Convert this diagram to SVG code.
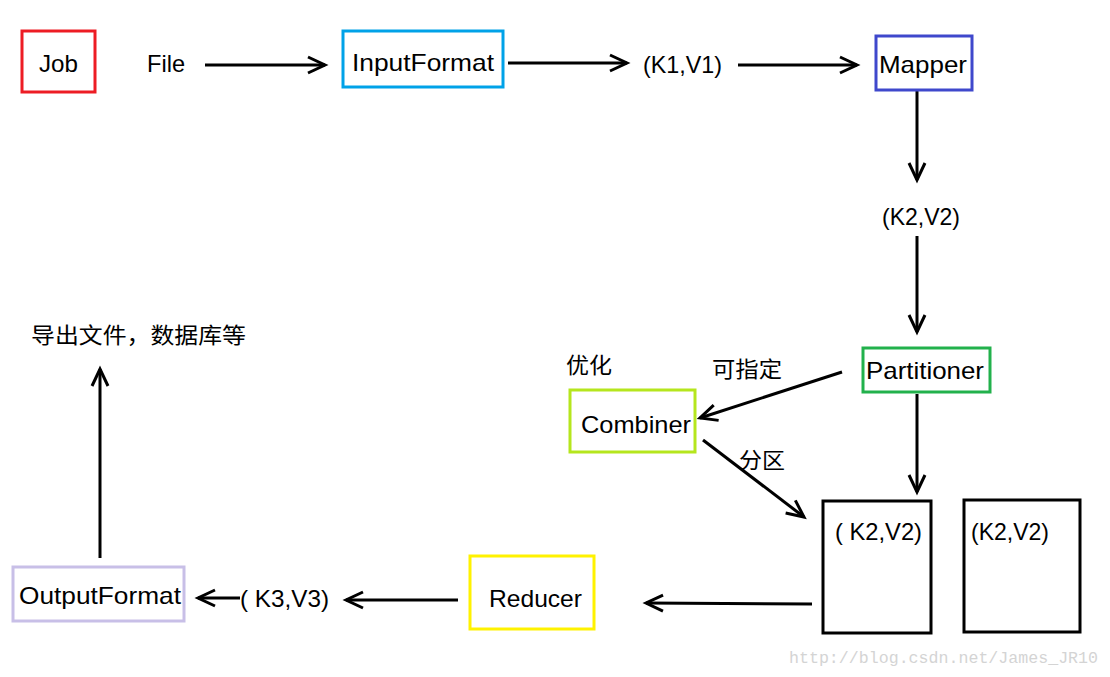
<svg xmlns="http://www.w3.org/2000/svg" width="1110" height="677" viewBox="0 0 1110 677">
<style>
.t{font-family:"Liberation Sans","Noto Sans CJK SC",sans-serif;font-size:24px;fill:#000}
.c{font-family:"Noto Sans CJK SC","Liberation Sans",sans-serif;font-size:22px;fill:#000}
.box{fill:none;stroke-width:3}
.ln{stroke:#000;stroke-width:3;fill:none;marker-end:url(#ah)}
.wm{font-family:"Liberation Mono",monospace;font-size:16.5px;fill:#d4d4d4}
</style>
<defs>
<marker id="ah" markerUnits="userSpaceOnUse" markerWidth="30" markerHeight="30" viewBox="-20 -15 30 30" refX="0" refY="0" orient="auto" overflow="visible">
<path d="M-17,-8 L0,0 L-17,8" fill="none" stroke="#000" stroke-width="3"/>
</marker>
</defs>
<rect width="1110" height="677" fill="#fff"/>
<g id="connectors">
<line class="ln" x1="205" y1="65" x2="325" y2="65"/>
<line class="ln" x1="508" y1="63" x2="627" y2="63"/>
<line class="ln" x1="738" y1="65" x2="857" y2="65"/>
<line class="ln" x1="917" y1="90" x2="917" y2="180"/>
<line class="ln" x1="917" y1="236" x2="917" y2="332"/>
<line class="ln" x1="842" y1="372" x2="700" y2="418"/>
<line class="ln" x1="703" y1="440" x2="804" y2="517"/>
<line class="ln" x1="917" y1="394" x2="917" y2="492"/>
<line class="ln" x1="812" y1="604" x2="646" y2="603"/>
<line class="ln" x1="458" y1="600" x2="346" y2="600"/>
<line class="ln" x1="240" y1="598" x2="198" y2="598"/>
<line class="ln" x1="100" y1="558" x2="100" y2="369"/>
</g>
<g id="job"><rect class="box" x="22" y="31" width="73" height="61" stroke="#ed1c24"/><text class="t" x="39" y="72" textLength="39" lengthAdjust="spacingAndGlyphs">Job</text></g>
<g id="file"><text class="t" x="147" y="72" textLength="38" lengthAdjust="spacingAndGlyphs">File</text></g>
<g id="inputformat"><rect class="box" x="343" y="31" width="160" height="56" stroke="#00a2e8"/><text class="t" x="352" y="71" textLength="142" lengthAdjust="spacingAndGlyphs">InputFormat</text></g>
<g id="k1v1"><text class="t" x="643" y="73" textLength="79" lengthAdjust="spacingAndGlyphs">(K1,V1)</text></g>
<g id="mapper"><rect class="box" x="876" y="36" width="96" height="54" stroke="#3f48cc"/><text class="t" x="879" y="73" textLength="88" lengthAdjust="spacingAndGlyphs">Mapper</text></g>
<g id="k2v2"><text class="t" x="882" y="225" textLength="78" lengthAdjust="spacingAndGlyphs">(K2,V2)</text></g>
<g id="partitioner"><rect class="box" x="863" y="348" width="127" height="44" stroke="#22b14c"/><text class="t" x="866" y="379" textLength="118" lengthAdjust="spacingAndGlyphs">Partitioner</text></g>
<g id="label-kezhiding"><text class="c" x="712" y="377" textLength="70" lengthAdjust="spacingAndGlyphs">可指定</text></g>
<g id="label-youhua"><text class="c" x="566" y="373" textLength="46" lengthAdjust="spacingAndGlyphs">优化</text></g>
<g id="combiner"><rect class="box" x="570" y="390" width="125" height="62" stroke="#b5e61d"/><text class="t" x="581" y="433" textLength="110" lengthAdjust="spacingAndGlyphs">Combiner</text></g>
<g id="label-fenqu"><text class="c" x="739" y="468" textLength="46" lengthAdjust="spacingAndGlyphs">分区</text></g>
<g id="partition1"><rect class="box" x="823" y="501" width="108" height="132" stroke="#000"/><text class="t" x="835" y="540" textLength="87" lengthAdjust="spacingAndGlyphs">( K2,V2)</text></g>
<g id="partition2"><rect class="box" x="964" y="500" width="116" height="132" stroke="#000"/><text class="t" x="971" y="540" textLength="78" lengthAdjust="spacingAndGlyphs">(K2,V2)</text></g>
<g id="reducer"><rect class="box" x="470" y="556" width="124" height="73" stroke="#fff200"/><text class="t" x="489" y="607" textLength="93" lengthAdjust="spacingAndGlyphs">Reducer</text></g>
<g id="k3v3"><text class="t" x="240" y="607" textLength="89" lengthAdjust="spacingAndGlyphs">( K3,V3)</text></g>
<g id="outputformat"><rect class="box" x="13" y="567" width="171" height="54" stroke="#c8bfe7"/><text class="t" x="19" y="604" textLength="162" lengthAdjust="spacingAndGlyphs">OutputFormat</text></g>
<g id="export"><text class="c" x="31" y="343" textLength="215" lengthAdjust="spacingAndGlyphs">导出文件，数据库等</text></g>
<text class="wm" x="789" y="663" textLength="309" lengthAdjust="spacingAndGlyphs">http://blog.csdn.net/James_JR10</text>
</svg>
